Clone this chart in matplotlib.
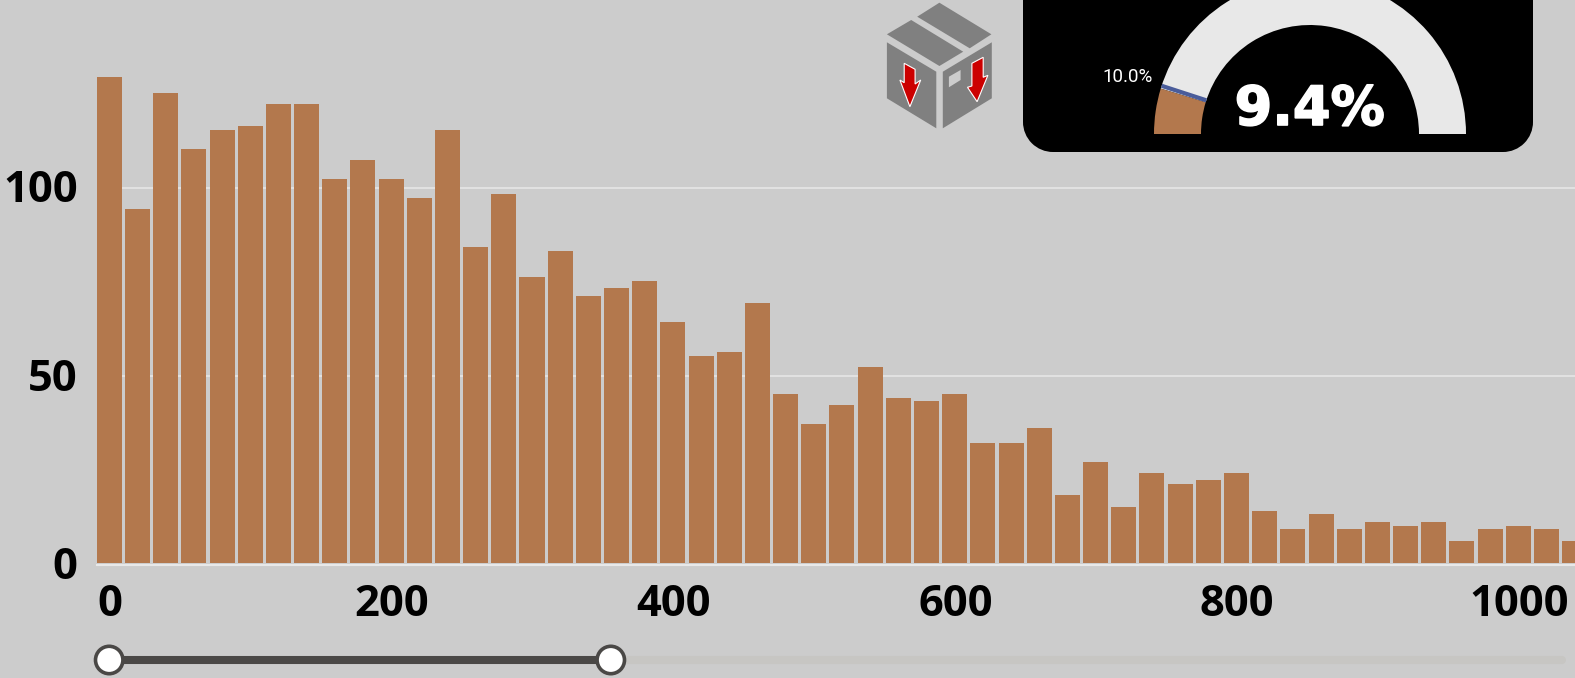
import matplotlib
matplotlib.use("Agg")
import numpy as np
import matplotlib.pyplot as plt
import matplotlib.patheffects as pe
from matplotlib.patches import Wedge, Rectangle, Polygon, Circle
from matplotlib.transforms import ScaledTranslation

# histogram counts, one bin every 20 units
bin_starts = list(range(0, 1060, 20))
counts = [129, 94, 125, 110, 115, 116, 122, 122, 102, 107, 102, 97, 115, 84, 98, 76, 83, 71, 73, 75,
          64, 55, 56, 69, 45, 37, 42, 52, 44, 43, 45, 32, 32, 36, 18, 27, 15, 24, 21, 22,
          24, 14, 9, 13, 9, 11, 10, 11, 6, 9, 10, 9, 6]
x_ticks = [0, 200, 400, 600, 800, 1000]
y_ticks = [0, 50, 100]

gauge_value = 9.4
gauge_target = 10.0
slider_low = 0
slider_high = 356

BG = "#cccccc"
BAR = "#b3784d"
GRID = "#e8e8e8"

W, H = 1575, 678
fig = plt.figure(figsize=(W / 100, H / 100), dpi=100, facecolor=BG)

# main chart
left, base = 97, 564.5
ax = fig.add_axes([left / W, (H - base) / H, 1 - left / W, base / H])
ax.set_facecolor(BG)
px_per_unit = 1.409
ax.set_xlim((left - 109.3) / px_per_unit, (W - 109.3) / px_per_unit)
ax.set_ylim(0, base / 3.766)
# bars sit about a pixel above the baseline in the original
ax.bar(bin_starts, counts, width=17.75, bottom=0.33, color=BAR, zorder=2)
ax.grid(axis="y", color=GRID, linewidth=1.1, zorder=1)
ax.set_axisbelow(True)
ax.axhline(0, color=GRID, linewidth=1.5, zorder=3, clip_on=False)
for s in ax.spines.values():
    s.set_visible(False)
ax.set_xticks(x_ticks)
ax.set_yticks(y_ticks)
ax.tick_params(axis="x", length=0, pad=13)
ax.tick_params(axis="y", length=0, pad=14)
for lab in ax.get_xticklabels() + ax.get_yticklabels():
    lab.set_fontfamily("Open Sans")
    lab.set_fontweight("bold")
    lab.set_fontsize(31.3)
    lab.set_color("black")
up = ScaledTranslation(0, 2 / 100, fig.dpi_scale_trans)
for lab in ax.get_yticklabels():
    lab.set_transform(lab.get_transform() + up)
right = ScaledTranslation(0.7 / 100, 0, fig.dpi_scale_trans)
for lab in ax.get_xticklabels():
    lab.set_transform(lab.get_transform() + right)

# overlay in pixel coordinates for the gauge, icon and slider
ov = fig.add_axes([0, 0, 1, 1])
ov.set_xlim(0, W)
ov.set_ylim(H, 0)
ov.axis("off")

# gauge card, square top runs off the figure
card_l, card_r, card_b, rad = 1023, 1533, 152, 30
ov.add_patch(Rectangle((card_l, -10), card_r - card_l, card_b - rad + 10, facecolor="black", edgecolor="none"))
ov.add_patch(Rectangle((card_l + rad, card_b - rad), card_r - card_l - 2 * rad, rad, facecolor="black", edgecolor="none"))
ov.add_patch(Circle((card_l + rad, card_b - rad), rad, facecolor="black", edgecolor="none"))
ov.add_patch(Circle((card_r - rad, card_b - rad), rad, facecolor="black", edgecolor="none"))

cx, cy, r_out, r_in = 1310, 134, 156, 109
val_ang = 180 + gauge_value / 100 * 180
tgt_ang = 180 + gauge_target / 100 * 180
ov.add_patch(Wedge((cx, cy), r_out, val_ang, 360, width=r_out - r_in, facecolor="#e8e8e8", edgecolor="none", zorder=2))
ov.add_patch(Wedge((cx, cy), r_out, 180, val_ang, width=r_out - r_in, facecolor=BAR, edgecolor="none", zorder=2))
ov.plot([cx + r_in * np.cos(np.radians(tgt_ang)), cx + r_out * np.cos(np.radians(tgt_ang))],
        [cy + r_in * np.sin(np.radians(tgt_ang)), cy + r_out * np.sin(np.radians(tgt_ang))],
        color="#4a5c9a", linewidth=3, solid_capstyle="butt", zorder=3)
ov.text(1309.6, 125, f"{gauge_value}%", family="DejaVu Sans", weight="bold", fontsize=39,
        color="white", ha="center", va="baseline",
        path_effects=[pe.withStroke(linewidth=1.2, foreground="white")])
ov.text(1127.5, 76.5, f"{gauge_target:.1f}%", family="Roboto", fontsize=13.5,
        color="white", ha="center", va="center")

# box icon
GREY = "#808080"
for pts in [
    [(917.2, 16.7), (939.4, 2.7), (991.4, 34.3), (969.7, 48.3)],
    [(911.2, 20), (963.2, 51.7), (939.4, 66), (886.9, 34.3)],
    [(886.9, 42.3), (936.3, 71.7), (936.3, 128.3), (886.9, 98.3)],
    [(942.8, 71.7), (991.8, 42.3), (991.8, 98.3), (942.8, 128.3)],
]:
    ov.add_patch(Polygon(pts, closed=True, facecolor=GREY, edgecolor="none"))
ov.add_patch(Polygon([(948.9, 76.7), (960.6, 70), (960.6, 80), (948.9, 87.3)], closed=True,
                     facecolor="#cccccc", edgecolor="none"))
for pts in [
    [(904.2, 63.3), (915.1, 69.3), (915.1, 84), (920.7, 80), (909.9, 106.7), (899.9, 80), (904.2, 82.7)],
    [(971.9, 63.3), (983.2, 57.3), (983.2, 77.3), (987.9, 75.3), (977.1, 101.7), (967.5, 87.3), (971.9, 86)],
]:
    ov.add_patch(Polygon(pts, closed=True, facecolor="#cc0000", edgecolor="white", linewidth=0.8))

# range slider
sx = lambda v: 109.2 + v * px_per_unit
ov.plot([sx(slider_high), 1562], [660, 660], color="#c7c6c3", linewidth=5.8, solid_capstyle="round")
ov.plot([sx(slider_low), sx(slider_high)], [660, 660], color="#4a4846", linewidth=5.8, solid_capstyle="butt")
for v in (slider_low, slider_high):
    ov.add_patch(Circle((sx(v), 660), 13.7, facecolor="white", edgecolor="#4a4846", linewidth=2.6, zorder=5))

fig.savefig("out.png", dpi=100, facecolor=BG)
